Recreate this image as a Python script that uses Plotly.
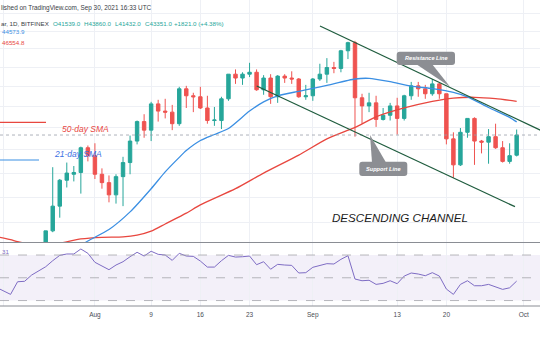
import math
import pandas as pd
import plotly.graph_objects as go

# ---------------- data ----------------
dates = pd.date_range("2021-07-19", "2021-09-30", freq="D").strftime("%Y-%m-%d").tolist()

open_ = [31800, 30800, 29800, 32100, 32300, 33600, 34300, 35400, 37300, 39400,
         39900, 40050, 42200, 41500, 39900, 39200, 38200, 39700, 40900, 42800,
         44600, 43800, 46300, 45600, 45500, 44400, 47800, 47100, 47000, 45900,
         44700, 44700, 46800, 49300, 48900, 49300, 49500, 47700, 48900, 47000,
         49100, 48900, 48800, 47000, 47100, 48800, 49300, 50000, 49900, 51800,
         52700, 46900, 46100, 46400, 44800, 45200, 46100, 44900, 47100, 48100,
         47800, 47300, 48300, 47300, 43000, 40700, 43600, 44900, 42800, 42700,
         43200, 42200, 41000, 41539]
high = [31900, 31000, 32800, 32600, 33600, 34500, 35400, 40500, 39500, 40900,
        40600, 42300, 42400, 42600, 40400, 39800, 39900, 41400, 43300, 44700,
        45300, 46500, 46700, 46800, 46200, 48000, 48100, 47400, 48000, 47100,
        46000, 47000, 49300, 49800, 49500, 50500, 49800, 49200, 49300, 49200,
        49300, 49600, 48900, 48200, 48900, 50400, 51000, 50600, 51900, 52800,
        52900, 47300, 47400, 47100, 45900, 46400, 46900, 47200, 48500, 48500,
        48200, 48800, 48400, 47300, 43600, 44000, 44900, 45000, 42900, 43900,
        44400, 42800, 42600, 43860]
low = [30400, 29300, 29500, 31700, 31900, 33400, 33900, 35300, 36400, 38800,
       39300, 38300, 41000, 39500, 38700, 37600, 37500, 37300, 39900, 42500,
       43100, 42800, 44600, 44900, 43800, 44200, 45900, 45500, 45800, 44400,
       44200, 43900, 46600, 48300, 48200, 49000, 47600, 47200, 46300, 46400,
       48400, 48300, 46900, 46700, 46600, 48600, 48400, 49400, 49500, 50900,
       43200, 44400, 45500, 44100, 44700, 44700, 43400, 44700, 46700, 47000,
       46800, 47100, 46800, 42500, 39600, 40600, 43100, 40700, 41700, 40800,
       42100, 40900, 40800, 41432]
close = [30800, 29800, 32100, 32300, 33600, 34300, 35400, 37300, 39400, 40000,
         40050, 42200, 41500, 39900, 39200, 38200, 39700, 40900, 42800, 44600,
         43800, 46300, 45600, 45500, 44400, 47800, 47100, 47000, 45900, 44700,
         44750, 46800, 49300, 48900, 49300, 49500, 47700, 48900, 47000, 49100,
         48900, 48800, 47000, 47100, 48800, 49300, 50000, 49900, 51800, 52700,
         46900, 46100, 46400, 44800, 45200, 46100, 44900, 47100, 48100, 47800,
         47300, 48300, 47300, 43000, 40700, 43600, 44900, 42800, 42700, 43200,
         42200, 41000, 41500, 43351]

sma21_dates = ["2021-07-29", "2021-07-31", "2021-08-03", "2021-08-06", "2021-08-09",
               "2021-08-11", "2021-08-13", "2021-08-14", "2021-08-16", "2021-08-18",
               "2021-08-20", "2021-08-23", "2021-08-25", "2021-08-27", "2021-08-30",
               "2021-09-01", "2021-09-03", "2021-09-07", "2021-09-09", "2021-09-12",
               "2021-09-15", "2021-09-18", "2021-09-21", "2021-09-23", "2021-09-26",
               "2021-09-29", "2021-09-30"]
sma21 = [34000, 34650, 35500, 36850, 38700, 40100, 41350, 41950, 42850, 43400,
         43950, 45600, 46500, 47100, 47550, 47850, 48150, 48800, 48870, 48520,
         48070, 47820, 47450, 47000, 45950, 45000, 44574]

sma50_dates = ["2021-07-18", "2021-07-20", "2021-07-21", "2021-07-24", "2021-07-27",
               "2021-07-30", "2021-08-02", "2021-08-05", "2021-08-07", "2021-08-09",
               "2021-08-11", "2021-08-14", "2021-08-16", "2021-08-21", "2021-08-25",
               "2021-08-30", "2021-09-03", "2021-09-07", "2021-09-10", "2021-09-14",
               "2021-09-18", "2021-09-21", "2021-09-24", "2021-09-27", "2021-09-30"]
sma50 = [34970, 34750, 34600, 34300, 34500, 34800, 34920, 34950, 35080, 35380,
         35920, 36750, 37400, 38700, 40000, 41550, 43000, 44050, 45050, 45900,
         46550, 46870, 46950, 46820, 46555]

rsi_dates = ["2021-07-18"] + dates
rsi = [41.5, 38.5, 35.4, 46.5, 46.9, 52.4, 55.9, 59.7, 65.0, 69.7, 70.9,
       70.9, 75.3, 71.5, 63.6, 60.6, 57.1, 61.2, 64.1, 68.5, 72.4,
       69.1, 73.3, 70.6, 70.0, 65.3, 71.5, 69.1, 68.8, 64.7, 59.4,
       59.4, 65.0, 69.7, 68.2, 68.5, 69.1, 61.5, 64.1, 57.5, 61.8,
       61.2, 60.9, 54.2, 54.5, 59.2, 60.6, 62.4, 62.1, 66.2, 69.4,
       48.9, 47.4, 47.8, 44.2, 45.1, 47.4, 44.8, 51.5, 54.2, 53.3,
       51.8, 54.5, 51.5, 40.1, 35.4, 44.2, 47.4, 43.0, 43.0, 44.2,
       42.1, 39.8, 41.2, 47.1]

tick_dates = ["2021-07-19", "2021-08-01", "2021-08-09", "2021-08-16", "2021-08-23",
              "2021-09-01", "2021-09-13", "2021-09-20", "2021-10-01"]
tick_text = ["19", "Aug", "9", "16", "23", "Sep", "13", "20", "Oct"]
grid_prices = [34000, 36000, 38000, 40000, 42000, 44000, 46000, 48000, 50000,
               52000, 54000, 56000]

# ---------------- style ----------------
W, H = 540, 340
GREEN = "#26a69a"
RED = "#ef5350"
BLUE = "#3b8fe3"
SMARED = "#e8473f"
CHAN = "#1f5c3e"
GRID = "#eef0f5"
FONT = "Liberation Sans, Arial, sans-serif"


def fx(px):
    return px / W


def fy(py):
    return 1 - py / H


main_dom = [fy(242.5), 1.0]
rsi_dom = [fy(306), fy(242.5)]
x_range = ["2021-07-18 11:57", "2021-10-03 07:40"]
y_range = [math.log10(34540), math.log10(57670)]

fig = go.Figure()

fig.add_trace(go.Candlestick(
    x=dates, open=open_, high=high, low=low, close=close,
    increasing=dict(line=dict(color=GREEN, width=1), fillcolor=GREEN),
    decreasing=dict(line=dict(color=RED, width=1), fillcolor=RED),
    whiskerwidth=0, showlegend=False, hoverinfo="skip",
    xaxis="x", yaxis="y"))

fig.add_trace(go.Scatter(x=sma50_dates, y=sma50, mode="lines",
                         line=dict(color=SMARED, width=1.3, shape="spline", smoothing=0.6),
                         xaxis="x", yaxis="y", showlegend=False, hoverinfo="skip"))
fig.add_trace(go.Scatter(x=sma21_dates, y=sma21, mode="lines",
                         line=dict(color=BLUE, width=1.3, shape="spline", smoothing=0.6),
                         xaxis="x", yaxis="y", showlegend=False, hoverinfo="skip"))

# last price dotted line
fig.add_trace(go.Scatter(x=x_range, y=[close[-1], close[-1]], mode="lines",
                         line=dict(color="#9aa0ab", width=0.8, dash="dot"),
                         xaxis="x", yaxis="y", showlegend=False, hoverinfo="skip"))

fig.add_trace(go.Scatter(x=rsi_dates, y=rsi, mode="lines",
                         line=dict(color="#7e6cc4", width=1),
                         xaxis="x2", yaxis="y2", showlegend=False, hoverinfo="skip"))

shapes = []
# RSI band and levels
shapes.append(dict(type="rect", xref="paper", yref="y2", x0=0, x1=1, y0=30, y1=70,
                   fillcolor="rgba(126,87,194,0.09)", line=dict(width=0), layer="below"))
for lv in [70, 50, 30]:
    shapes.append(dict(type="line", xref="paper", yref="y2", x0=0, x1=1, y0=lv, y1=lv,
                       line=dict(color="#a5a5ab", width=0.8, dash="dash")))
# panel separators
for py in [242.5, 306]:
    shapes.append(dict(type="line", xref="paper", yref="paper", x0=0, x1=1,
                       y0=fy(py), y1=fy(py), line=dict(color="#8a8d94", width=1)))


def seg(x0, y0, x1, y1, color, width=1.3):
    return dict(type="line", xref="paper", yref="paper", x0=fx(x0), y0=fy(y0),
                x1=fx(x1), y1=fy(y1), line=dict(color=color, width=width))


# channel lines
shapes.append(seg(320, 26, 545, 132.4, CHAN))
shapes.append(seg(256.7, 86, 515, 206.7, CHAN))
# left SMA label lines
shapes.append(seg(0, 122.3, 46, 122.3, SMARED, 1.2))
shapes.append(seg(0, 160, 39, 160, BLUE, 1.2))


def rrect(x0, y0, x1, y1, r=3):
    pts = [
        f"M{fx(x0 + r)},{fy(y0)}", f"L{fx(x1 - r)},{fy(y0)}",
        f"Q{fx(x1)},{fy(y0)} {fx(x1)},{fy(y0 + r)}", f"L{fx(x1)},{fy(y1 - r)}",
        f"Q{fx(x1)},{fy(y1)} {fx(x1 - r)},{fy(y1)}", f"L{fx(x0 + r)},{fy(y1)}",
        f"Q{fx(x0)},{fy(y1)} {fx(x0)},{fy(y1 - r)}", f"L{fx(x0)},{fy(y0 + r)}",
        f"Q{fx(x0)},{fy(y0)} {fx(x0 + r)},{fy(y0)}", "Z"]
    return " ".join(pts)


def tri(p):
    return "M" + " L".join(f"{fx(a)},{fy(b)}" for a, b in p) + " Z"


BOX = "#8c8e93"
for path in [rrect(396.7, 51.7, 455, 65), tri([(416, 64), (432, 64), (450, 86.7)]),
             rrect(359.3, 161.7, 407.3, 176), tri([(372, 162.5), (386, 162.5), (370, 135)])]:
    shapes.append(dict(type="path", xref="paper", yref="paper", path=path,
                       fillcolor=BOX, line=dict(width=0)))

ann = []


def txt(x, y, s, size, color, anchor="left", family=FONT):
    ann.append(dict(x=fx(x), y=fy(y), xref="paper", yref="paper", text=s,
                    showarrow=False, xanchor=anchor, yanchor="middle",
                    font=dict(size=size, color=color, family=family)))


txt(-1, 7.5, "lished on TradingView.com, Sep 30, 2021 16:33 UTC", 6.4, "#3a3d45")
txt(-1, 23.3, "ar, 1D, BITFINEX", 6.2, "#3a3d45")
ohlc_txt = ["O41539.0", "H43860.0", "L41432.0", "C43351.0", "+1821.0 (+4.38%)"]
ohlc_x = [50.7, 81.7, 112.7, 142.7, 172.3]
for s, xx in zip(ohlc_txt, ohlc_x):
    txt(xx, 23.3, s, 6.2, GREEN)
txt(0, 31.7, "44573.9", 6.2, BLUE)
txt(0, 42, "46554.8", 6.2, SMARED)
txt(0, 251.7, "31", 6.2, "#7e6cc4")

txt(85, 128.7, "<i>50-day SMA</i>", 8.5, SMARED, "center")
txt(78.4, 154.3, "<i>21-day SMA</i>", 8.5, "#3b6fe3", "center")
txt(426, 58.3, "<b><i>Resistance Line</i></b>", 5.6, "white", "center")
txt(383.3, 168.8, "<b><i>Support Line</i></b>", 5.6, "white", "center")
txt(400, 217.5, "<i>DESCENDING CHANNEL</i>", 11.6, "#1b1b1b", "center")

axis_common = dict(type="date", range=x_range, tickvals=tick_dates, ticktext=tick_text,
                   showgrid=True, gridcolor=GRID, gridwidth=1, zeroline=False,
                   showline=False, ticks="", automargin=False)

fig.update_layout(
    width=W, height=H, margin=dict(l=0, r=0, t=0, b=0),
    paper_bgcolor="white", plot_bgcolor="white", template="none",
    showlegend=False, shapes=shapes, annotations=ann,
    xaxis=dict(axis_common, domain=[0, 1], anchor="y", showticklabels=False,
               rangeslider=dict(visible=False)),
    yaxis=dict(type="log", domain=main_dom, range=y_range, tickvals=grid_prices,
               showticklabels=False, showgrid=True, gridcolor=GRID, zeroline=False,
               showline=False, ticks="", automargin=False),
    xaxis2=dict(axis_common, domain=[0, 1], anchor="y2", matches="x",
                showticklabels=True, ticklabelstandoff=3,
                tickfont=dict(size=6.5, color="#4a4d55", family=FONT)),
    yaxis2=dict(domain=rsi_dom, range=[25.2, 81.0], showgrid=False, zeroline=False,
                showticklabels=False, showline=False, ticks="", automargin=False),
)

fig.write_html("out.html")
